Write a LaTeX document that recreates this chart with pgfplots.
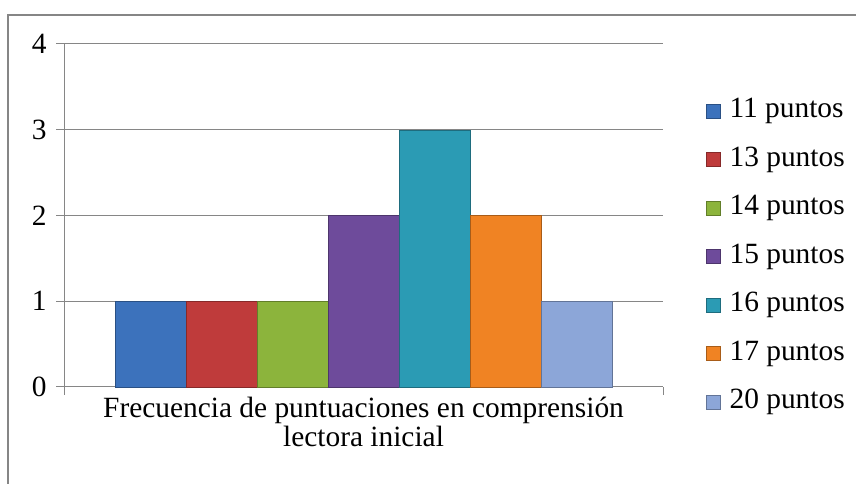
\documentclass[border=0pt]{standalone}
\usepackage{fontspec}
\setmainfont{Liberation Serif}
\usepackage{pgfplots}
\pgfplotsset{compat=1.18}
\definecolor{gridc}{RGB}{134,134,134}
\definecolor{c11}{RGB}{60,114,188}
\definecolor{c13}{RGB}{191,59,59}
\definecolor{c14}{RGB}{140,180,60}
\definecolor{c15}{RGB}{110,75,155}
\definecolor{c16}{RGB}{43,155,180}
\definecolor{c17}{RGB}{240,131,35}
\definecolor{c20}{RGB}{140,166,216}
\begin{document}
\begin{tikzpicture}[x=1bp,y=1bp]
\useasboundingbox (0,0) rectangle (856,484);
\draw[gridc, line width=1.2bp] (8,0) -- (8,469) -- (856,469);
\begin{axis}[
  at={(64bp,97bp)}, anchor=south west,
  scale only axis, width=599bp, height=343bp,
  ybar, bar shift=0pt, bar width=1,
  xmin=-0.218, xmax=8.218, ymin=0, ymax=4,
  ytick={0,1,2,3,4},
  xtick={-0.218,8.218}, xticklabels={},
  axis x line*=bottom, axis y line*=left,
  axis line style={draw=gridc, line width=1bp, -},
  tick style={draw=gridc, line width=1bp},
  tick align=outside, major tick length=8bp,
  ymajorgrids, grid style={draw=gridc, line width=1bp},
  tick label style={font=\fontsize{29.5}{31}\selectfont},
  yticklabel style={xshift=-6bp},
  /pgf/number format/assume math mode=true,
  clip=false,
  legend image code/.code={\fill[#1] (0bp,-7bp) rectangle (14bp,7bp);},
  legend cell align=left,
  legend style={at={(axis description cs:1.0718,0.38)}, anchor=west, draw=none, fill=none,
    font=\fontsize{29.5}{31}\selectfont, inner sep=0pt, row sep=23.5bp,
    nodes={inner sep=0pt, text height=19bp, text depth=6bp},
    /tikz/every odd column/.style={column sep=9bp}},
]
\addplot[fill=c11, draw=c11!70!black] coordinates {(1,1)};
\addplot[fill=c13, draw=c13!70!black] coordinates {(2,1)};
\addplot[fill=c14, draw=c14!70!black] coordinates {(3,1)};
\addplot[fill=c15, draw=c15!70!black] coordinates {(4,2)};
\addplot[fill=c16, draw=c16!70!black] coordinates {(5,3)};
\addplot[fill=c17, draw=c17!70!black] coordinates {(6,2)};
\addplot[fill=c20, draw=c20!70!black] coordinates {(7,1)};
\legend{11 puntos,13 puntos,14 puntos,15 puntos,16 puntos,17 puntos,20 puntos}
\end{axis}
\node[anchor=north, align=center, inner sep=0pt, font=\fontsize{29.5}{29}\selectfont] at (363.5,87) {Frecuencia de puntuaciones en comprensión\\lectora inicial};
\end{tikzpicture}
\end{document}
